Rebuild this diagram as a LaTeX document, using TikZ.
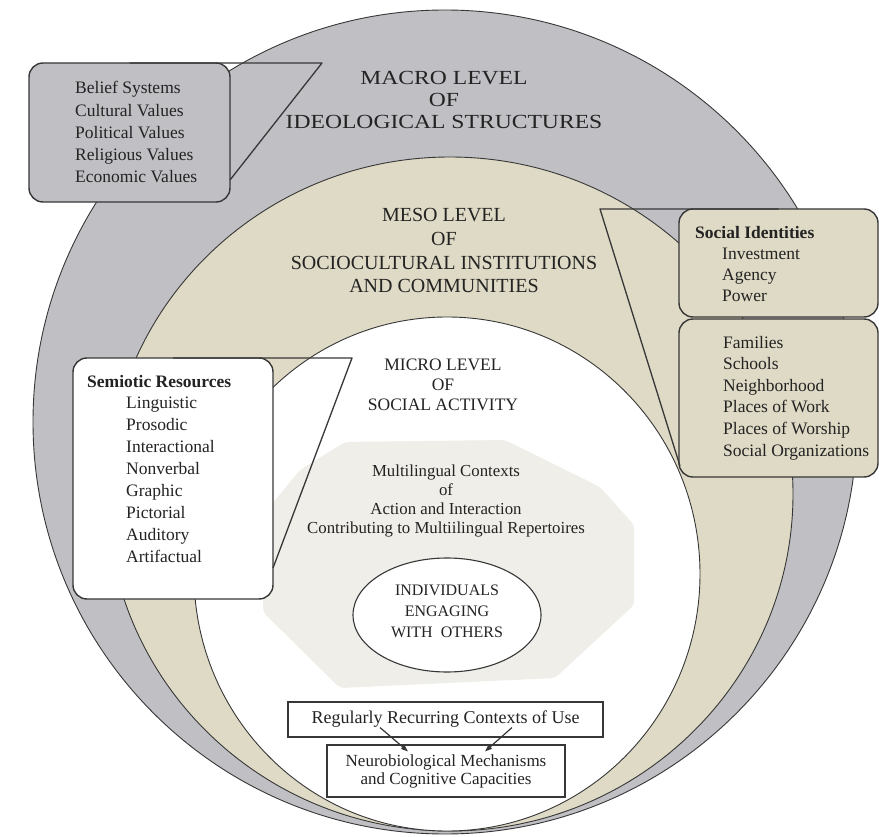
\documentclass[tikz,border=0pt]{standalone}
\usepackage{fontspec}
\setmainfont{Liberation Serif}
\newfontfamily\widefont[FakeStretch=1.18]{Liberation Serif}
\usetikzlibrary{shapes.geometric,arrows.meta,calc}
\definecolor{macrog}{RGB}{192,192,196}
\definecolor{mesob}{RGB}{222,218,197}
\definecolor{innerg}{RGB}{239,238,232}
\definecolor{linec}{RGB}{55,55,55}
\definecolor{txt}{RGB}{35,35,35}
\begin{document}
\begin{tikzpicture}[x=1pt,y=-1pt,
  ring/.style={draw=linec, line width=0.9pt},
  listbox/.style={draw=linec, line width=1.4pt, rounded corners=14pt, anchor=north west, inner sep=0pt, outer sep=0pt},
  listtext/.style={anchor=base west, align=left, inner sep=0pt, text=txt},
  tail/.style={draw=linec, line width=1.3pt, line join=round},
  levellabel/.style={anchor=base, align=center, inner sep=0pt, text=txt},
  plainbox/.style={draw=linec, line width=1.1pt, rectangle, inner sep=0pt, fill=white, text=txt},
  arr/.style={-{Triangle[length=7pt,width=5pt]}, line width=1.2pt, draw=linec}
]
\useasboundingbox (0,0) rectangle (879,837);
\fill[white] (0,0) rectangle (879,837);

% rings
\path[ring, fill=macrog] (445,422) circle [radius=412];
\path[ring, fill=mesob] (450,494) ellipse [x radius=343, y radius=337];
\path[ring, fill=white] (447,574) ellipse [x radius=253, y radius=257];
\fill[innerg, rounded corners=4pt] (263,515) -- (300,470) -- (345,442) -- (505,440) -- (600,487) -- (634,525) -- (634,605) -- (555,678) -- (340,688) -- (263,612) -- cycle;

% level labels (anchor base = baseline of last line)
\node[levellabel, font=\widefont\fontsize{20pt}{22pt}\selectfont] (macro) at (444,129) {MACRO LEVEL\\OF\\IDEOLOGICAL STRUCTURES};
\node[levellabel, font=\fontsize{20pt}{23.6pt}\selectfont] (meso) at (444,292.8) {MESO LEVEL\\OF\\SOCIOCULTURAL INSTITUTIONS\\AND COMMUNITIES};
\node[levellabel, font=\fontsize{17.5pt}{20pt}\selectfont] (micro) at (443,410) {MICRO LEVEL\\OF\\SOCIAL ACTIVITY};

% inner content
\node[levellabel, font=\fontsize{16.8pt}{18.7pt}\selectfont] (multi) at (446,533) {Multilingual Contexts\\of\\Action and Interaction\\Contributing to Multiilingual Repertoires};
\node[ellipse, draw=linec, line width=1.1pt, fill=white, minimum width=188pt, minimum height=114pt, inner sep=0pt] (indiv) at (447,615) {};
\node[levellabel, font=\fontsize{16pt}{21pt}\selectfont] (indivtext) at (447,637) {INDIVIDUALS\\ENGAGING\\WITH\ \ OTHERS};

\node[plainbox, minimum width=315pt, minimum height=35pt, font=\fontsize{18pt}{20pt}\selectfont] (reg) at (445.5,719.5) {Regularly Recurring Contexts of Use};
\node[plainbox, minimum width=238pt, minimum height=52pt, align=center, font=\fontsize{17pt}{18pt}\selectfont] (neuro) at (446,771) {Neurobiological Mechanisms\\and Cognitive Capacities};
\draw[arr] ($(reg.south)+(-65.5,-10)$) -- ($(neuro.north)+(-38,7)$);
\draw[arr] ($(reg.south)+(66.5,-10)$) -- ($(neuro.north)+(39,7)$);

% macro callout
\node[listbox, fill=macrog, minimum width=201pt, minimum height=139pt] (mbox) at (29,63) {};
\coordinate (mtip) at (322,63);
\coordinate (mend) at (230,180);
\draw[tail] (mbox.north) -- (mtip) -- (mend);
\node[listtext, font=\fontsize{17.5pt}{22.25pt}\selectfont] (mlist) at (75,183) {Belief Systems\\Cultural Values\\Political Values\\Religious Values\\Economic Values};

% semiotic callout
\node[listbox, fill=white, minimum width=200pt, minimum height=241pt] (sbox) at (73,358) {};
\coordinate (stip) at (352,358);
\coordinate (send) at (273,568);
\draw[tail] (sbox.north) -- (stip) -- (send);
\node[listtext, font=\fontsize{17.5pt}{21.9pt}\selectfont] (slist) at (87,562.2) {\textbf{Semiotic Resources}\\\hspace*{39pt}Linguistic\\\hspace*{39pt}Prosodic\\\hspace*{39pt}Interactional\\\hspace*{39pt}Nonverbal\\\hspace*{39pt}Graphic\\\hspace*{39pt}Pictorial\\\hspace*{39pt}Auditory\\\hspace*{39pt}Artifactual};

% social identities / institutions callout
\node[listbox, fill=mesob, minimum width=199pt, minimum height=108pt] (ibox) at (679,209) {};
\node[listbox, fill=mesob, minimum width=199pt, minimum height=158pt] (fbox) at (679,319) {};
\coordinate (itip) at (600,209);
\coordinate (iend) at (680,466);
\draw[tail] (ibox.north) -- (itip) -- (iend);
\node[listtext, font=\fontsize{17.5pt}{21.3pt}\selectfont] (ilist) at (695,301.9) {\textbf{Social Identities}\\\hspace*{27pt}Investment\\\hspace*{27pt}Agency\\\hspace*{27pt}Power};
\node[listtext, font=\fontsize{17.5pt}{21.6pt}\selectfont] (flist) at (723,456) {Families\\Schools\\Neighborhood\\Places of Work\\Places of Worship\\Social Organizations};
\end{tikzpicture}
\end{document}
